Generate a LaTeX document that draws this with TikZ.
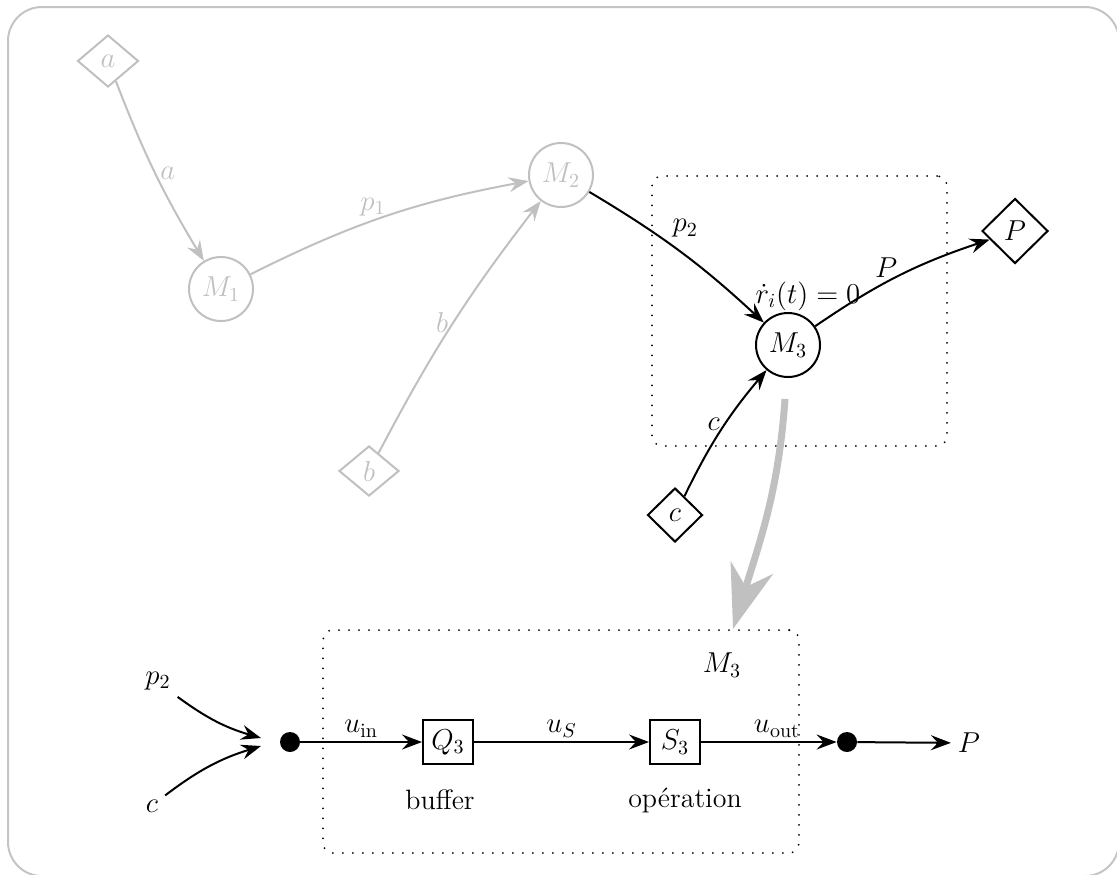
\documentclass[tikz,border=0pt]{standalone}
\usetikzlibrary{arrows.meta,shapes.geometric,calc}
\definecolor{lg}{RGB}{192,192,192}
\definecolor{framecol}{RGB}{196,196,196}
\begin{document}
\begin{tikzpicture}[x=0.5pt,y=0.5pt,
  font=\fontsize{14}{17}\selectfont,
  tip/.style={-{Stealth[length=10pt,width=7.5pt,inset=3.5pt]}},
  flow/.style={tip,line width=1pt},
  ghostflow/.style={flow,draw=lg,text=lg},
  mnode/.style={circle,draw,line width=1pt,minimum size=32pt,inner sep=0pt},
  ghostm/.style={mnode,draw=lg,text=lg},
  dnode/.style={diamond,draw,line width=1pt,inner sep=0pt},
  ghostd/.style={dnode,draw=lg,text=lg},
  boxnode/.style={rectangle,draw,line width=1pt,minimum width=25pt,minimum height=22pt,inner sep=1pt},
  dotnode/.style={circle,fill,inner sep=0pt,minimum size=10pt},
  dotbox/.style={rectangle,draw,line width=1pt,dash pattern=on 0pt off 5pt,line cap=round,rounded corners=5pt,inner sep=0pt},
  bigarrow/.style={draw=lg,line width=3.5pt,-{Stealth[length=32pt,width=22pt,inset=10pt]}},
  lab/.style={inner sep=2pt}
]
\useasboundingbox (0,0) rectangle (1117,-874);
\draw[framecol,line width=1pt,rounded corners=17pt] (8,-7) rectangle (1119,-876);

% dotted boxes
\node[dotbox,minimum width=147.5pt,minimum height=135pt] (topbox) at (799.5,-311) {};
\node[dotbox,minimum width=238pt,minimum height=111.5pt] (botbox) at (561,-741.5) {};

% upper graph
\node[ghostd,minimum width=30.5pt,minimum height=26pt] (a) at (108,-61) {$a$};
\node[ghostd,minimum width=30pt,minimum height=25pt] (b) at (369,-471) {$b$};
\node[dnode,minimum width=27.5pt,minimum height=27pt] (c) at (675,-515) {$c$};
\node[dnode,minimum width=33pt,minimum height=32.5pt] (P) at (1015,-231) {$P$};
\node[ghostm] (M1) at (221,-289) {$M_1$};
\node[ghostm] (M2) at (561,-175) {$M_2$};
\node[mnode] (M3) at (788,-345) {$M_3$};
\node (ri) at (808,-296) {$\dot r_i(t)=0$};

\draw[ghostflow] (a) to[bend right=5] node[lab,right,pos=0.5] {$a$} (M1);
\draw[ghostflow] (M1) to[bend left=8] node[lab,above,pos=0.45] {$p_1$} (M2);
\draw[ghostflow] (b) to[bend left=5] node[lab,left,pos=0.5] {$b$} (M2);
\draw[flow] (M2) to[bend left=6] node[lab,anchor=south west,pos=0.42] {$p_2$} (M3);
\draw[flow] (M3) to[bend left=8] node[lab,above,pos=0.42] {$P$} (P);
\draw[flow] (c) to[bend left=7] node[lab,left,pos=0.55] {$c$} (M3);

% big grey arrow
\draw[bigarrow] ([shift={(-1.5pt,-10.5pt)}]M3.south) to[out=-94,in=73] ([xshift=86pt]botbox.north);

% lower chain
\node (p2in) at (158,-681) {$p_2$};
\node (cin) at (152,-806) {$c$};
\coordinate (join1) at (261,-738);
\coordinate (join2) at (261,-746);
\node[dotnode] (dL) at (290,-742) {};
\node[boxnode] (Q3) at (448,-742) {$Q_3$};
\node[boxnode] (S3) at (675,-742) {$S_3$};
\node[dotnode] (dR) at (847,-742) {};
\node (Pout) at (969,-743) {$P$};
\node (buf) at (440,-800) {buffer};
\node (op) at (685,-800) {opération};
\node (M3b) at (722,-665) {$M_3$};

\draw[flow] (p2in) to[bend right=10] (join1);
\draw[flow] (cin) to[bend left=10] (join2);
\draw[flow] (dL) -- node[lab,above] {$u_{\mathrm{in}}$} (Q3);
\draw[flow] (Q3) -- node[lab,above] {$u_S$} (S3);
\draw[flow] (S3) -- node[lab,above,pos=0.56] {$u_{\mathrm{out}}$} (dR);
\draw[flow] (dR) -- (Pout);
\end{tikzpicture}
\end{document}
